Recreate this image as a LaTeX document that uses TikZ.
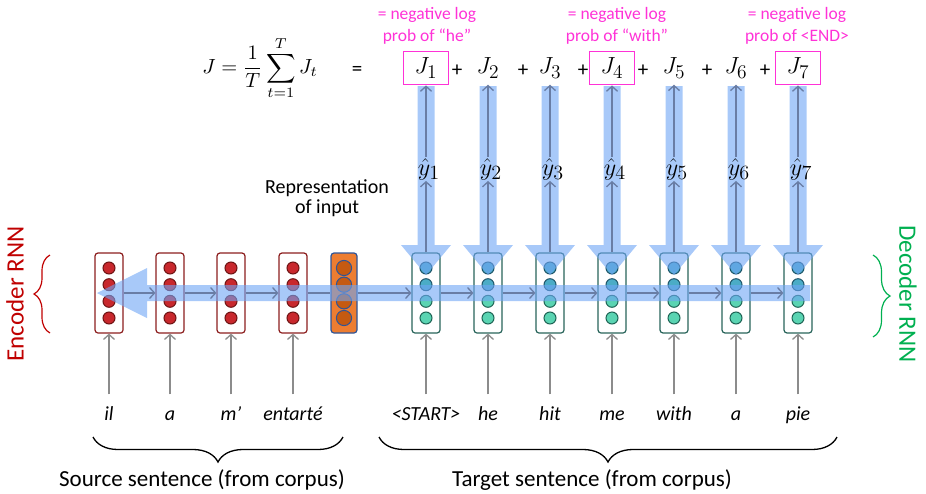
\documentclass[tikz,border=0pt]{standalone}
\usepackage{fontspec}
\setmainfont{Carlito}
\usetikzlibrary{arrows.meta,decorations.pathreplacing,calc}
\definecolor{encred}{RGB}{140,30,30}
\definecolor{encfill}{RGB}{200,40,45}
\definecolor{encline}{RGB}{110,20,20}
\definecolor{decline}{RGB}{40,100,90}
\definecolor{decblue}{RGB}{75,172,198}
\definecolor{decblueline}{RGB}{30,85,105}
\definecolor{decgreen}{RGB}{90,212,178}
\definecolor{decgreenline}{RGB}{30,100,85}
\definecolor{orfill}{RGB}{237,125,49}
\definecolor{orcirc}{RGB}{197,90,17}
\definecolor{orline}{RGB}{47,85,151}
\definecolor{bandblue}{RGB}{110,165,245}
\definecolor{pinkc}{RGB}{255,50,215}
\definecolor{arrowg}{RGB}{105,125,165}
\definecolor{inputg}{RGB}{140,140,140}
\definecolor{encoderred}{RGB}{192,0,0}
\definecolor{decodergreen}{RGB}{0,176,80}
\newcommand{\bigmath}[1]{\scalebox{1.35}{$#1$}}
\begin{document}
\begin{tikzpicture}[x=1pt,y=-1pt,
  encbox/.style={draw=encred,line width=1.2pt,rounded corners=3pt,minimum width=28pt,minimum height=80pt,inner sep=0pt,fill=white},
  decbox/.style={draw=decline,line width=1.2pt,rounded corners=3pt,minimum width=28pt,minimum height=80pt,inner sep=0pt,fill=white},
  orbox/.style={draw=orline,line width=1.2pt,rounded corners=3pt,minimum width=26pt,minimum height=80pt,inner sep=0pt,fill=orfill},
  encc/.style={fill=encfill,draw=encline,line width=1pt},
  decb/.style={fill=decblue,draw=decblueline,line width=1pt},
  decg/.style={fill=decgreen,draw=decgreenline,line width=1pt},
  orc/.style={fill=orcirc,draw=orline,line width=1pt},
  band/.style={fill=bandblue,fill opacity=0.6,draw=none},
  garrow/.style={draw=arrowg,line width=1.3pt,-{Straight Barb[length=5pt,width=11pt,line width=1.3pt]}},
  gline/.style={draw=arrowg,line width=1.3pt},
  inarrow/.style={draw=inputg,line width=1.3pt,-{Straight Barb[length=5pt,width=11pt,line width=1.3pt]}},
  jnode/.style={minimum width=45pt,minimum height=33pt,inner sep=0pt,font=\fontsize{19}{19}\selectfont},
  jbox/.style={jnode,draw=pinkc,line width=1.8pt},
  plusnode/.style={font=\fontsize{21}{21}\selectfont,inner sep=0pt},
  pinklabel/.style={text=pinkc,align=center,font=\fontsize{17.5}{22}\selectfont},
  yhat/.style={font=\fontsize{19}{19}\selectfont,inner sep=1pt},
  word/.style={font=\fontsize{20}{20}\selectfont\itshape,anchor=base,text height=14pt,text depth=4pt},
  bigtext/.style={font=\fontsize{23}{23}\selectfont},
  rnnlabel/.style={font=\fontsize{25}{25}\selectfont}
]
\useasboundingbox (0,0) rectangle (926,493);

% encoder boxes
\foreach \i/\x in {1/109,2/170,3/231,4/293} {
  \node[encbox] (e\i) at (\x,293) {};
  \foreach \cy in {268,284.7,301.3,318} \filldraw[encc] (\x,\cy) circle (6pt);
}
% representation box
\node[orbox] (rep) at (344,293) {};
\foreach \cy in {268,284.7,301.3,318} \filldraw[orc] (344,\cy) circle (7.6pt);
% decoder boxes
\foreach \i/\x in {1/426,2/488,3/550,4/612,5/674,6/736,7/798} {
  \node[decbox] (d\i) at (\x,293) {};
  \filldraw[decb] (\x,268) circle (6pt);
  \filldraw[decb] (\x,284.7) circle (6pt);
  \filldraw[decg] (\x,301.3) circle (6pt);
  \filldraw[decg] (\x,318) circle (6pt);
}

% J row
\node[font=\fontsize{10}{12}\selectfont,inner sep=0pt] (Jdef) at (260,68) {\scalebox{2.05}{$\displaystyle J=\frac{1}{T}\sum_{t=1}^{T}J_t$}};
\node[plusnode] (eq) at (357,71) {=};
\node[jbox] (J1) at (426,68) {\bigmath{J_1}};
\node[jnode] (J2) at (488,68) {\bigmath{J_2}};
\node[jnode] (J3) at (550,68) {\bigmath{J_3}};
\node[jbox] (J4) at (612,68) {\bigmath{J_4}};
\node[jnode] (J5) at (674,68) {\bigmath{J_5}};
\node[jnode] (J6) at (736,68) {\bigmath{J_6}};
\node[jbox] (J7) at (798,68) {\bigmath{J_7}};
\foreach \k/\x in {1/457,2/523,3/583,4/643,5/707,6/765}
  \node[plusnode] (p\k) at (\x,71) {+};

\node[pinklabel] (l1) at (427,26) {= negative log\\prob of “he”};
\node[pinklabel] (l4) at (617,26) {= negative log\\prob of “with”};
\node[pinklabel] (l7) at (797,26) {= negative log\\prob of <END>};

% blue bands
\path[band] (810,285) -- (147,285) -- (147,268) -- (97,293) -- (147,318) -- (147,301) -- (810,301) -- cycle;
\foreach \x in {426,488,550,612,674,736,798}
  \path[band] (\x-8.5,86) -- (\x+8.5,86) -- (\x+8.5,245) -- (\x+25,245) -- (\x,275) -- (\x-25,245) -- (\x-8.5,245) -- cycle;

% y hats
\foreach \i/\x in {1/426,2/488,3/550,4/612,5/674,6/736,7/798}
  \node[yhat] (y\i) at (\x+3,169) {\scalebox{1.4}{$\hat{y}_{\i}$}};

% recurrent arrows
\draw[garrow] (e1) -- (e2);
\draw[garrow] (e2) -- (e3);
\draw[garrow] (e3) -- (e4);
\draw[gline] (e4) -- (rep);
\draw[garrow] (rep) -- (d1);
\foreach \a/\b in {1/2,2/3,3/4,4/5,5/6,6/7}
  \draw[garrow] (d\a) -- (d\b);
% output arrows
\foreach \i in {1,...,7} {
  \draw[garrow] (d\i.north) -- (d\i.north |- y\i.south);
  \draw[garrow] (d\i.north |- y\i.north) -- (J\i.south);
}

% words
\foreach \i/\x/\w in {1/109/il,2/170/a,3/231/m’,4/293/entarté}
  \node[word] (we\i) at (\x,420) {\w};
\foreach \i/\x/\w in {1/426/<START>,2/488/he,3/550/hit,4/612/me,5/674/with,6/736/a,7/798/pie}
  \node[word] (wd\i) at (\x,420) {\w};
\foreach \i in {1,...,4}
  \draw[inarrow,shorten <=8pt] (e\i.south |- we\i.north) -- (e\i.south);
\foreach \i in {1,...,7}
  \draw[inarrow,shorten <=8pt] (d\i.south |- wd\i.north) -- (d\i.south);

% representation label
\node[align=center,font=\fontsize{20}{20}\selectfont] (reptext) at (327,198) {Representation\\of input};

% braces
\draw[line width=1.3pt,decorate,decoration={brace,amplitude=25pt}] (343,437) -- (93,437);
\draw[line width=1.3pt,decorate,decoration={brace,amplitude=25pt}] (837,437) -- (379,437);
\node[bigtext] (src) at (202,480) {Source sentence (from corpus)};
\node[bigtext] (tgt) at (592,480) {Target sentence (from corpus)};

% RNN labels
\node[rnnlabel,rotate=90,text=encoderred] (enclab) at (15,294) {Encoder RNN};
\draw[encoderred,line width=1.2pt,decorate,decoration={brace,amplitude=16pt}] (50,333) -- (50,255);
\node[rnnlabel,rotate=-90,text=decodergreen] (declab) at (908,294) {Decoder RNN};
\draw[decodergreen,line width=1.2pt,decorate,decoration={brace,amplitude=17pt}] (873,255) -- (873,337);
\end{tikzpicture}
\end{document}
